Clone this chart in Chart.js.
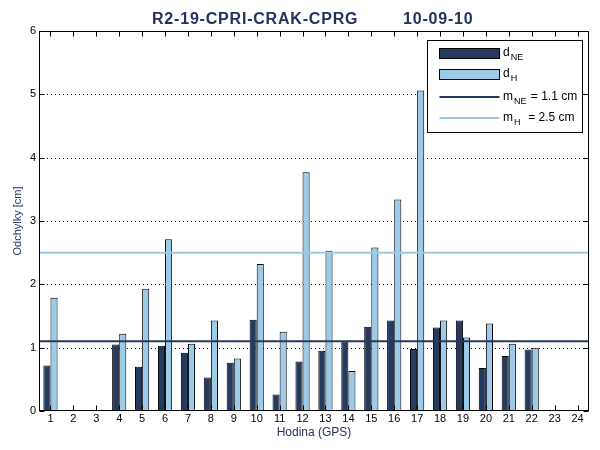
<!DOCTYPE html>
<html>
<head>
<meta charset="utf-8">
<script src="https://cdn.jsdelivr.net/npm/chart.js@4"></script>
<style>
  html, body { margin: 0; padding: 0; background: #fff; }
  #wrap { width: 600px; height: 450px; }
</style>
</head>
<body>
<div id="wrap"><canvas id="chart" width="600" height="450"></canvas></div>
<script>
// ----------------------------------------------------
// Data
// ----------------------------------------------------
const hours = ['1','2','3','4','5','6','7','8','9','10','11','12',
               '13','14','15','16','17','18','19','20','21','22','23','24'];
const dNE = [0.72, null, null, 1.05, 0.70, 1.03, 0.92, 0.53, 0.76, 1.44, 0.26, 0.78,
             0.95, 1.10, 1.33, 1.43, 0.98, 1.32, 1.43, 0.68, 0.87, 0.97, null, null];
const dH  = [1.79, null, null, 1.22, 1.93, 2.71, 1.06, 1.43, 0.83, 2.32, 1.25, 3.77,
             2.53, 0.63, 2.58, 3.34, 5.06, 1.43, 1.16, 1.38, 1.06, 1.00, null, null];
const mNE = 1.1;
const mH = 2.5;
const yTicks = [0, 1, 2, 3, 4, 5, 6];
const titleName = 'R2-19-CPRI-CRAK-CPRG';
const titleDate = '10-09-10';

const DARK = '#243a5e';
const LIGHT = '#9ccbea';
const NAVY = '#23325f';
const FONT = '"Liberation Sans", Arial, sans-serif';

// ----------------------------------------------------
// Frame, grid, mean lines, legend, title
// ----------------------------------------------------
const framePlugin = {
    id: 'frame',
    beforeDatasetsDraw(chart) {
        const { ctx, chartArea: a, scales: { y } } = chart;
        ctx.save();
        ctx.strokeStyle = '#000';
        ctx.lineWidth = 1;
        ctx.setLineDash([1, 3]);
        yTicks.slice(1, -1).forEach(v => {
            const py = Math.round(y.getPixelForValue(v)) + 0.5;
            ctx.beginPath();
            ctx.moveTo(a.left, py);
            ctx.lineTo(a.right, py);
            ctx.stroke();
        });
        ctx.restore();
    },
    afterDatasetsDraw(chart) {
        const { ctx, chartArea: a, scales: { x, y } } = chart;
        ctx.save();
        // mean lines
        ctx.lineWidth = 2;
        [[mNE, DARK], [mH, LIGHT]].forEach(([v, c]) => {
            const py = y.getPixelForValue(v);
            ctx.strokeStyle = c;
            ctx.beginPath();
            ctx.moveTo(a.left, py);
            ctx.lineTo(a.right, py);
            ctx.stroke();
        });
        // box
        ctx.strokeStyle = '#000';
        ctx.lineWidth = 1;
        const L = Math.round(a.left) + 0.5, R = Math.round(a.right) - 0.5;
        const T = Math.round(a.top) + 0.5, B = Math.round(a.bottom) - 0.5;
        ctx.strokeRect(L, T, R - L, B - T);
        // inward ticks
        ctx.beginPath();
        hours.forEach((h, i) => {
            const px = Math.round(x.getPixelForValue(i)) + 0.5;
            ctx.moveTo(px, B); ctx.lineTo(px, B - 5);
            ctx.moveTo(px, T); ctx.lineTo(px, T + 5);
        });
        yTicks.forEach(v => {
            const py = Math.round(y.getPixelForValue(v)) + 0.5;
            ctx.moveTo(L, py); ctx.lineTo(L + 5, py);
            ctx.moveTo(R, py); ctx.lineTo(R - 5, py);
        });
        ctx.stroke();
        ctx.restore();
    },
    afterDraw(chart) {
        const { ctx, chartArea: a } = chart;
        ctx.save();
        // title (two parts with a wide gap)
        ctx.fillStyle = NAVY;
        ctx.font = 'bold 16px ' + FONT;
        ctx.letterSpacing = '0.8px';
        ctx.textAlign = 'left';
        ctx.textBaseline = 'alphabetic';
        ctx.fillText(titleName, a.left + 113, 24);
        ctx.fillText(titleDate, a.left + 364, 24);
        ctx.letterSpacing = '0px';

        // legend
        const lx = 427.5, ly = 40.5, lw = 155, lh = 92;
        ctx.fillStyle = '#fff';
        ctx.fillRect(lx, ly, lw, lh);
        ctx.strokeStyle = '#000';
        ctx.lineWidth = 1;
        ctx.strokeRect(lx, ly, lw, lh);

        const sx = 439.5, sw = 60, tx = 503;
        const sub = (main, s, rest, yy) => {
            ctx.fillStyle = '#000';
            ctx.textAlign = 'left';
            ctx.textBaseline = 'alphabetic';
            ctx.font = '12px ' + FONT;
            ctx.fillText(main, tx, yy);
            const w = ctx.measureText(main).width;
            ctx.font = '9px ' + FONT;
            ctx.fillText(s, tx + w + 1, yy + 4);
            const w2 = ctx.measureText(s).width;
            if (rest) {
                ctx.font = '12px ' + FONT;
                ctx.fillText(rest, tx + w + w2 + 2, yy);
            }
        };
        // bar entries
        ctx.fillStyle = DARK;
        ctx.fillRect(sx, 48.5, sw, 10);
        ctx.strokeRect(sx, 48.5, sw, 10);
        ctx.fillStyle = LIGHT;
        ctx.fillRect(sx, 69.5, sw, 10);
        ctx.strokeRect(sx, 69.5, sw, 10);
        sub('d', 'NE', '', 56);
        sub('d', 'H', '', 77);
        // line entries
        ctx.lineWidth = 2;
        ctx.strokeStyle = DARK;
        ctx.beginPath(); ctx.moveTo(sx, 97); ctx.lineTo(sx + sw, 97); ctx.stroke();
        ctx.strokeStyle = LIGHT;
        ctx.beginPath(); ctx.moveTo(sx, 118); ctx.lineTo(sx + sw, 118); ctx.stroke();
        sub('m', 'NE', ' = ' + mNE.toFixed(1) + ' cm', 100);
        sub('m', 'H', '  = ' + mH.toFixed(1) + ' cm', 121);
        ctx.restore();
    }
};

// ----------------------------------------------------
// Chart
// ----------------------------------------------------
const ctxChart = document.getElementById('chart').getContext('2d');
new Chart(ctxChart, {
    type: 'bar',
    data: {
        labels: hours,
        datasets: [
            {
                label: 'dNE',
                data: dNE,
                backgroundColor: DARK,
                borderColor: '#000',
                borderWidth: 1,
                borderSkipped: false
            },
            {
                label: 'dH',
                data: dH,
                backgroundColor: LIGHT,
                borderColor: '#000',
                borderWidth: 1,
                borderSkipped: false
            }
        ]
    },
    options: {
        responsive: false,
        animation: false,
        devicePixelRatio: 1,
        categoryPercentage: 0.62,
        barPercentage: 1.0,
        layout: { padding: { top: 31, right: 11, left: 0, bottom: 0 } },
        plugins: {
            legend: { display: false },
            title: { display: false },
            tooltip: { enabled: false }
        },
        scales: {
            x: {
                offset: true,
                grid: { display: false, drawTicks: false },
                border: { display: false },
                ticks: {
                    color: '#000',
                    font: { family: FONT, size: 11 },
                    padding: 1,
                    maxRotation: 0,
                    autoSkip: false
                },
                title: {
                    display: true,
                    text: 'Hodina (GPS)',
                    color: NAVY,
                    font: { family: FONT, size: 12 },
                    padding: { top: 0, bottom: 10 }
                },
                afterFit(scale) { scale.height = 39; }
            },
            y: {
                min: 0,
                max: 6,
                grid: { display: false, drawTicks: false },
                border: { display: false },
                ticks: {
                    stepSize: 1,
                    color: '#000',
                    font: { family: FONT, size: 11 },
                    padding: 3
                },
                title: {
                    display: true,
                    text: 'Odchylky [cm]',
                    color: NAVY,
                    font: { family: FONT, size: 11 },
                    padding: { top: 11, bottom: 0 }
                },
                afterFit(scale) { scale.width = 39; }
            }
        }
    },
    plugins: [framePlugin]
});
</script>
</body>
</html>
